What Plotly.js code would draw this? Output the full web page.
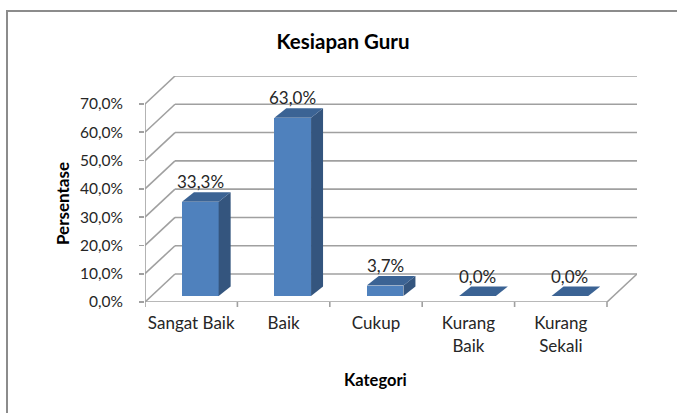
<!DOCTYPE html>
<html>
<head>
<meta charset="utf-8">
<script src="https://cdn.plot.ly/plotly-3.0.1.min.js"></script>
<style>html,body{margin:0;padding:0;background:#fff;}#chart{width:677px;height:413px;}</style>
</head>
<body>
<div id="chart"></div>
<script>
// ---- data ----
const categories = ["Sangat Baik", "Baik", "Cukup", "Kurang<br>Baik", "Kurang<br>Sekali"];
const values = [33.3, 63.0, 3.7, 0.0, 0.0];
const yTickVals = [0, 10, 20, 30, 40, 50, 60, 70];
const yTickText = ["0,0%", "10,0%", "20,0%", "30,0%", "40,0%", "50,0%", "60,0%", "70,0%"];
const labels = ["33,3%", "63,0%", "3,7%", "0,0%", "0,0%"];
const chartTitle = "Kesiapan Guru";
const yTitle = "Persentase";
const xTitle = "Kategori";

// ---- geometry (pixels) ----
const W = 677, H = 413;
const M = {l: 145, r: 40, t: 76, b: 111};
const plotW = W - M.l - M.r, plotH = H - M.t - M.b;
const catPx = 92.4;
const yPxPer = 198 / 70;
const xr = [-0.5, -0.5 + plotW / catPx];
const yr = [0, plotH / yPxPer];
const kx = (xr[1] - xr[0]) / plotW, ky = (yr[1] - yr[0]) / plotH;
const depth = {dx: 30, dy: 28};
const bar = {off: 9.1, w: 36.7, base: 6, ddx: 12, ddy: 9.5};

const grid = '#a0a0a0';
const shapes = [];
function line(x0, y0, x1, y1, color, width) {
  shapes.push({type: 'line', xref: 'x', yref: 'y', x0, y0, x1, y1,
    line: {color: color || grid, width: width || 1.6}, layer: 'below'});
}
const bx = xr[0] + depth.dx * kx;
yTickVals.forEach(v => {
  const by = v + depth.dy * ky;
  line(bx, by, xr[1], by);
  line(xr[0], v, bx, by);
});
const lastX = categories.length - 0.5;
line(xr[0], 0, lastX, 0);
line(lastX, 0, lastX + depth.dx * kx, depth.dy * ky);
line(xr[0], 0, xr[0], yTickVals[yTickVals.length - 1]);
for (let i = 0; i <= categories.length; i++) {
  const x = i - 0.5;
  shapes.push({type: 'line', xref: 'x', yref: 'paper', x0: x, x1: x, y0: 0, y1: -5 / plotH,
    line: {color: grid, width: 1.6}});
}
shapes.push({type: 'rect', xref: 'paper', yref: 'paper',
  x0: (7 - M.l) / plotW, x1: (700 - M.l) / plotW,
  y0: (H - M.b - 430) / plotH, y1: (H - M.b - 11) / plotH,
  line: {color: '#8c8c8c', width: 2}, fillcolor: 'rgba(0,0,0,0)', layer: 'below'});

const idx = categories.map((c, i) => i);
const front = {
  type: 'bar', x: idx.map(i => i + bar.off * kx), y: values,
  base: values.map(() => bar.base * ky), width: bar.w * kx,
  marker: {color: '#4F81BD', line: {width: 0}}, hoverinfo: 'skip', showlegend: false
};
const traces = [front];
values.forEach((v, i) => {
  const L = i + bar.off * kx - bar.w * kx / 2, R = L + bar.w * kx;
  const b = bar.base * ky, t = b + v;
  const ex = bar.ddx * kx, ey = bar.ddy * ky;
  if (v > 0) {
    traces.push({type: 'scatter', mode: 'lines', fill: 'toself', fillcolor: '#34557E',
      x: [R, R + ex, R + ex, R, R], y: [b, b + ey, t + ey, t, b],
      line: {width: 0}, hoverinfo: 'skip', showlegend: false});
  }
  traces.push({type: 'scatter', mode: 'lines', fill: 'toself', fillcolor: '#3B6394',
    x: [L, R, R + ex, L + ex, L], y: [t, t, t + ey, t + ey, t],
    line: {width: 0}, hoverinfo: 'skip', showlegend: false});
});

const font = 'Lato, "Open Sans", sans-serif';
const annotations = values.map((v, i) => ({
  x: i + bar.off * kx, y: bar.base * ky + v, xref: 'x', yref: 'y',
  text: labels[i], showarrow: false, yanchor: 'middle', yshift: 20,
  font: {family: font, size: 17, color: '#262626'}
}));
annotations.push({xref: 'paper', yref: 'paper', x: (62 - M.l) / plotW, y: (H - M.b - 204) / plotH,
  text: '<b>' + yTitle + '</b>', textangle: -90, showarrow: false, xanchor: 'center', yanchor: 'middle',
  font: {family: font, size: 17, color: '#000'}});
annotations.push({xref: 'paper', yref: 'paper', x: (375 - M.l) / plotW, y: (H - M.b - 380) / plotH,
  text: '<b>' + xTitle + '</b>', showarrow: false, xanchor: 'center', yanchor: 'middle',
  font: {family: font, size: 16.5, color: '#000'}});

const layout = {
  width: W, height: H, margin: M, paper_bgcolor: '#fff', plot_bgcolor: 'rgba(0,0,0,0)',
  title: {text: '<b>' + chartTitle + '</b>', x: 343 / W, xanchor: 'center', xref: 'container',
    y: 1 - 42 / H, yanchor: 'middle', yref: 'container', font: {family: font, size: 20.5, color: '#000'}},
  xaxis: {range: xr, tickvals: idx, ticktext: categories, showgrid: false, zeroline: false,
    showline: false, ticks: 'outside', ticklen: 6, tickcolor: 'rgba(0,0,0,0)',
    tickfont: {family: font, size: 17, color: '#262626'}, fixedrange: true},
  yaxis: {range: yr, tickvals: yTickVals, ticktext: yTickText, showgrid: false, zeroline: false,
    showline: false, ticks: 'outside', ticklen: 5, tickcolor: grid, tickwidth: 1.6,
    ticklabelstandoff: 13,
    tickfont: {family: font, size: 15.5, color: '#262626'}, fixedrange: true},
  shapes, annotations, showlegend: false, bargap: 0
};
Plotly.newPlot('chart', traces, layout, {displayModeBar: false, staticPlot: true});
</script>
</body>
</html>
